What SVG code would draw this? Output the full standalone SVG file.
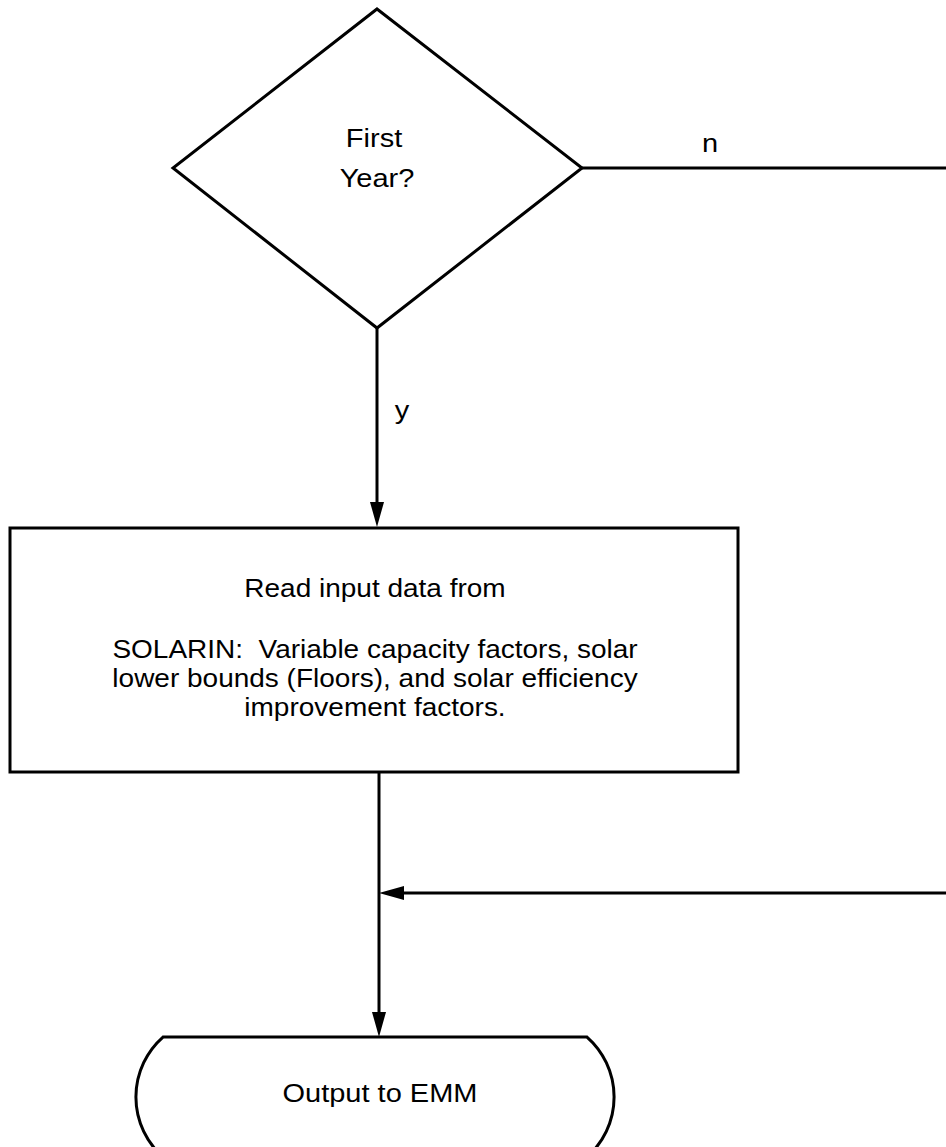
<svg xmlns="http://www.w3.org/2000/svg" width="946" height="1147" viewBox="0 0 946 1147">
<style>
.shape{fill:#fff;stroke:#000;stroke-width:3}
.line{fill:none;stroke:#000;stroke-width:3}
.t{font-family:"Liberation Sans",Arial,Helvetica,sans-serif;font-size:25px;fill:#000;text-anchor:middle}
</style>
<defs>
<marker id="ah" markerUnits="userSpaceOnUse" markerWidth="26" markerHeight="14" refX="15" refY="7" orient="auto">
<path d="M0,0 L25,7 L0,14 Z" fill="#000"/>
</marker>
</defs>
<rect width="946" height="1147" fill="#fff"/>
<g id="connectors">
<path class="line" d="M377,328 V517" marker-end="url(#ah)"/>
<path class="line" d="M582,168 H946"/>
<path class="line" d="M379,772 V1027" marker-end="url(#ah)"/>
<path class="line" d="M946,893 H389" marker-end="url(#ah)"/>
<text class="t" transform="translate(710,152) scale(1.16,1)">n</text>
<text class="t" transform="translate(402,419) scale(1.16,1)">y</text>
</g>
<g id="decision">
<polygon class="shape" points="377,9 582,168 377,328 173,168"/>
<text class="t" transform="translate(374,147) scale(1.16,1)">First</text>
<text class="t" transform="translate(377,187) scale(1.16,1)">Year?</text>
</g>
<g id="read-input">
<rect class="shape" x="10" y="528" width="728" height="244"/>
<text class="t" transform="translate(375,597) scale(1.12,1)">Read input data from</text>
<text class="t" transform="translate(375,658) scale(1.12,1)" xml:space="preserve">SOLARIN:  Variable capacity factors, solar</text>
<text class="t" transform="translate(375,687) scale(1.12,1)">lower bounds (Floors), and solar efficiency</text>
<text class="t" transform="translate(375,716) scale(1.12,1)">improvement factors.</text>
</g>
<g id="output">
<path class="shape" d="M163,1037 H587 A80,80 0 0 1 587,1157 H163 A80,80 0 0 1 163,1037 Z"/>
<text class="t" transform="translate(380,1102) scale(1.16,1)">Output to EMM</text>
</g>
</svg>
